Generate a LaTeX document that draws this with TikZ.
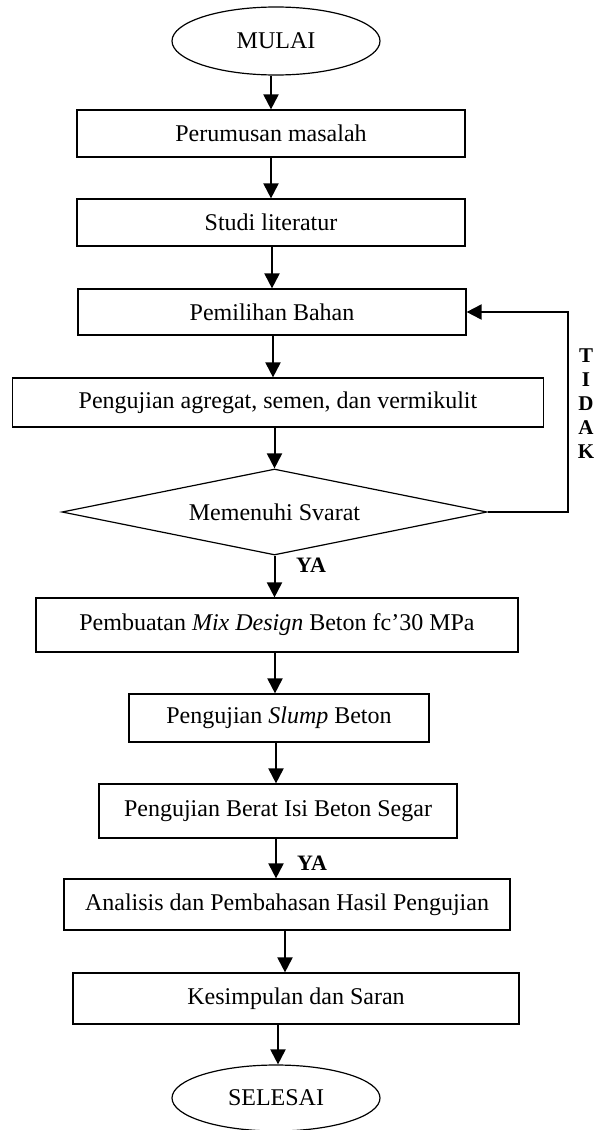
\documentclass[tikz,border=0pt]{standalone}
\usepackage{fontspec}
\setmainfont{Liberation Serif}
\usetikzlibrary{shapes.geometric,arrows.meta}
\begin{document}
\begin{tikzpicture}[x=0.5pt,y=-0.5pt,
  box/.style={draw,line width=0.6pt,rectangle,inner sep=0pt,font=\fontsize{12}{14}\selectfont},
  term/.style={draw,line width=0.6pt,ellipse,inner sep=0pt,font=\fontsize{12}{14}\selectfont},
  dec/.style={draw,line width=0.6pt,diamond,aspect=5,inner sep=0pt,font=\fontsize{12}{14}\selectfont},
  arr/.style={line width=1pt,-{Triangle[length=7.5pt,width=7.5pt]}},
  lbl/.style={font=\fontsize{11}{12}\selectfont\bfseries,inner sep=0pt}]
\useasboundingbox (0,0) rectangle (594,1130);
\node[term,minimum width=104pt,minimum height=34pt] (start) at (276,41) {MULAI};
\node[box,minimum width=194pt,minimum height=23.5pt] (b1) at (271,133.5) {Perumusan masalah};
\node[box,minimum width=194pt,minimum height=23.5pt] (b2) at (271,222.5) {Studi literatur};
\node[box,minimum width=194pt,minimum height=23pt] (b3) at (272,312) {Pemilihan Bahan};
\node[box,minimum width=265.5pt,minimum height=24.5pt] (b4) at (278,402.5) {Pengujian agregat, semen, dan vermikulit};
\node[dec,minimum width=212.5pt,minimum height=43pt] (d) at (274.5,512) {\raisebox{-1.5pt}{Memenuhi Svarat}};
\node[box,minimum width=241pt,minimum height=27pt] (b5) at (277,625) {Pembuatan \textit{Mix Design} Beton fc’30 MPa};
\node[box,minimum width=150pt,minimum height=24pt] (b6) at (279,718) {Pengujian \textit{Slump} Beton};
\node[box,minimum width=179pt,minimum height=27pt] (b7) at (278,811) {Pengujian Berat Isi Beton Segar};
\node[box,minimum width=223pt,minimum height=25.5pt] (b8) at (287,904.5) {Analisis dan Pembahasan Hasil Pengujian};
\node[box,minimum width=223pt,minimum height=25.5pt] (b9) at (296,998.5) {Kesimpulan dan Saran};
\node[term,minimum width=104pt,minimum height=33pt] (end) at (276,1098) {SELESAI};
\coordinate (lp) at (568,312);
\node[lbl] (ya1) at (311,565) {YA};
\node[lbl] (ya2) at (312,863) {YA};
\node[lbl,align=center,font=\fontsize{10.5}{12}\selectfont\bfseries] (tidak) at (586,404) {T\\I\\D\\A\\K};
\draw[arr] (start.south -| 271,0) -- (b1.north -| 271,0);
\draw[arr] (b1.south -| 271,0) -- (b2.north -| 271,0);
\draw[arr] (b2.south -| 272,0) -- (b3.north -| 272,0);
\draw[arr] (b3.south -| 273,0) -- (b4.north -| 273,0);
\draw[arr] (b4.south -| 274.5,0) -- (d.north);
\draw[arr] (d.south) -- (b5.north -| d.south);
\draw[arr] (b5.south -| 275,0) -- (b6.north -| 275,0);
\draw[arr] (b6.south -| 276,0) -- (b7.north -| 276,0);
\draw[arr] (b7.south -| 276,0) -- (b8.north -| 276,0);
\draw[arr] (b8.south -| 285,0) -- (b9.north -| 285,0);
\draw[arr] (b9.south -| 278,0) -- (end.north -| 278,0);
\draw[arr] (d.east) -| (lp) -- (b3.east);
\end{tikzpicture}
\end{document}
